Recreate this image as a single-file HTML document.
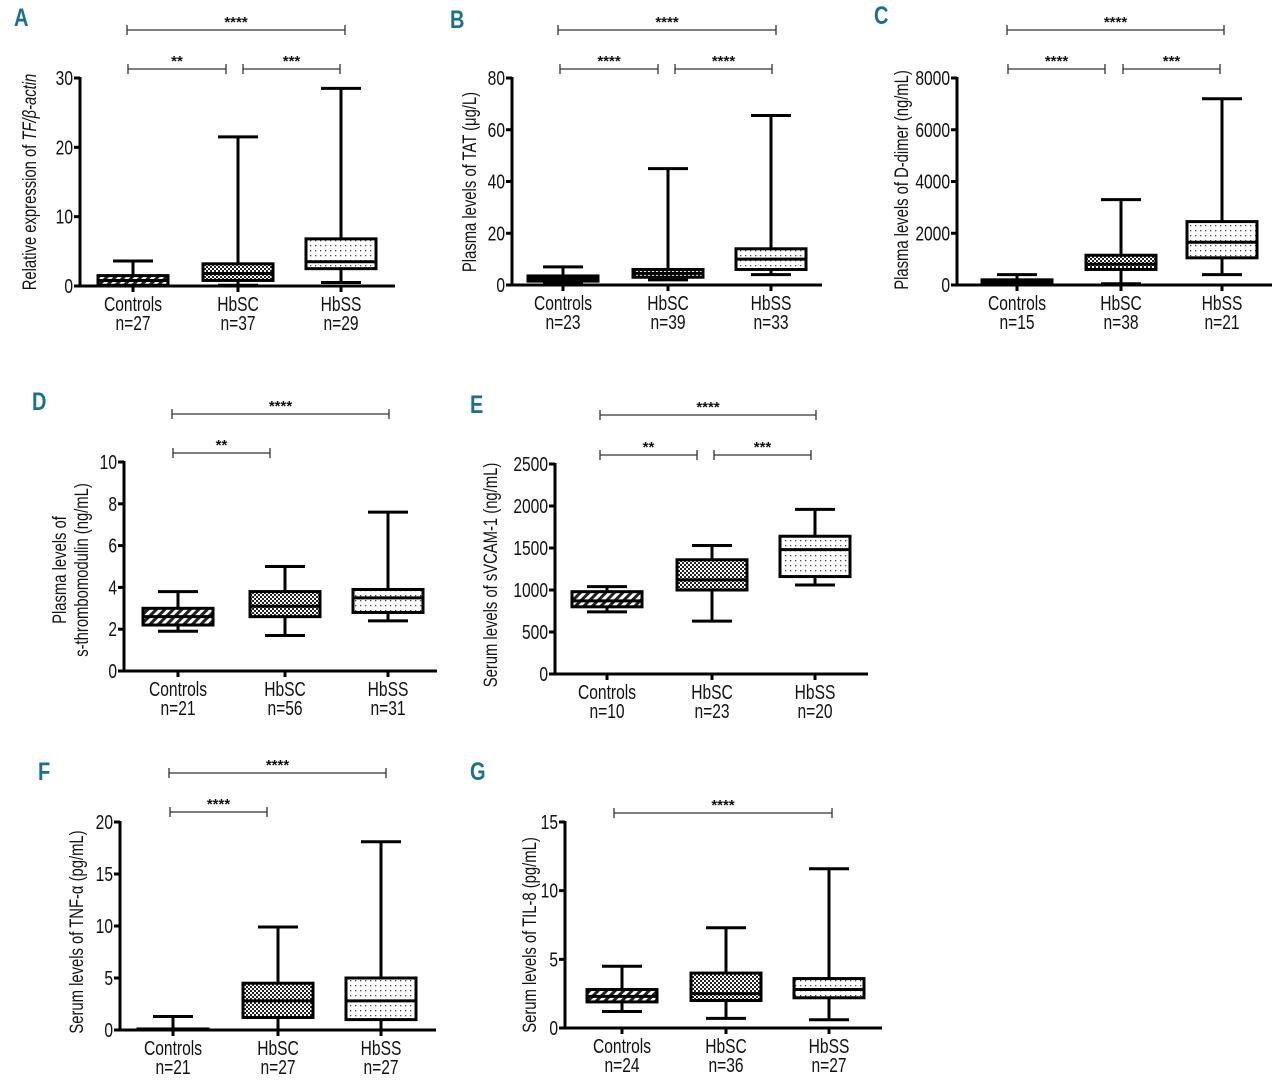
<!DOCTYPE html>
<html><head><meta charset="utf-8"><style>
body{margin:0;background:#fff}
svg{display:block}
text{font-family:"Liberation Sans",sans-serif;fill:#111}
</style></head><body>
<svg id="fig" width="1280" height="1082" viewBox="0 0 1280 1082" xmlns="http://www.w3.org/2000/svg">
<defs>
<pattern id="pHatch" width="6" height="6" patternUnits="userSpaceOnUse" patternTransform="rotate(45)">
<rect width="6" height="6" fill="#fff"/><rect width="3" height="6" fill="#222"/></pattern>
<pattern id="pCross" width="4" height="4" patternUnits="userSpaceOnUse">
<rect width="4" height="4" fill="#fff"/><rect width="2" height="2" fill="#222"/><rect x="2" y="2" width="2" height="2" fill="#222"/></pattern>
<pattern id="pDots" width="5" height="5" patternUnits="userSpaceOnUse">
<rect width="5" height="5" fill="#fff"/><rect width="1.3" height="1.3" fill="#444"/></pattern>
</defs>
</svg>
<script>
// ---- data ----
const catsA=["Controls","HbSC","HbSS"], nA=["n=27","n=37","n=29"];
const minA=[0,0.1,0.5], q1A=[0.1,0.8,2.5], medA=[0.8,1.8,3.5], q3A=[1.5,3.2,6.8], maxA=[3.6,21.5,28.5];
const ticksA=[0,10,20,30];
const catsB=["Controls","HbSC","HbSS"], nB=["n=23","n=39","n=33"];
const minB=[0.5,2,4], q1B=[1.5,3,6], medB=[2.5,4.5,10], q3B=[3.5,6,14], maxB=[7,45,65.5];
const ticksB=[0,20,40,60,80];
const catsC=["Controls","HbSC","HbSS"], nC=["n=15","n=38","n=21"];
const minC=[0,50,400], q1C=[50,600,1050], medC=[100,800,1650], q3C=[200,1150,2450], maxC=[400,3300,7200];
const ticksC=[0,2000,4000,6000,8000];
const catsD=["Controls","HbSC","HbSS"], nD=["n=21","n=56","n=31"];
const minD=[1.9,1.7,2.4], q1D=[2.2,2.6,2.8], medD=[2.6,3.1,3.5], q3D=[3.0,3.8,3.9], maxD=[3.8,5.0,7.6];
const ticksD=[0,2,4,6,8,10];
const catsE=["Controls","HbSC","HbSS"], nE=["n=10","n=23","n=20"];
const minE=[740,630,1060], q1E=[800,1000,1160], medE=[870,1120,1480], q3E=[980,1360,1640], maxE=[1040,1530,1960];
const ticksE=[0,500,1000,1500,2000,2500];
const catsF=["Controls","HbSC","HbSS"], nF=["n=21","n=27","n=27"];
const minF=[0,0,0], q1F=[0,1.2,1.0], medF=[0,2.8,2.8], q3F=[0.1,4.5,5.0], maxF=[1.3,9.9,18.1];
const ticksF=[0,5,10,15,20];
const catsG=["Controls","HbSC","HbSS"], nG=["n=24","n=36","n=27"];
const minG=[1.2,0.7,0.6], q1G=[1.9,2.0,2.2], medG=[2.3,2.5,2.8], q3G=[2.8,4.0,3.6], maxG=[4.5,7.3,11.6];
const ticksG=[0,5,10,15];
const sigA=["****","**","***"], sigB=["****","****","****"], sigC=["****","****","***"];
const sigD=["****","**"], sigE=["****","**","***"], sigF=["****","****"], sigG=["****"];

// ---- layout ----
const NS="http://www.w3.org/2000/svg";
const svg=document.getElementById('fig');
const SX=0.78;
function mk(tag,attrs,parent,txt){const e=document.createElementNS(NS,tag);for(const k in attrs)e.setAttribute(k,attrs[k]);if(txt!==undefined)e.textContent=txt;(parent||svg).appendChild(e);return e;}
function ntext(x,y,size,anchor,parent,txt){return mk('text',{transform:`translate(${x},${y}) scale(${SX},1)`,'font-size':size,'text-anchor':anchor},parent,txt);}
const fills=["url(#pHatch)","url(#pCross)","url(#pDots)"];

function panel(p){
  const g=mk('g',{});
  
  
  const lab=mk('text',{transform:`translate(${p.lx},${p.ly}) scale(0.8,1)`,'font-size':25,'font-weight':'bold',style:'fill:#1b6f93'},g,p.id);
  
  
  const ymax=p.ticks[p.ticks.length-1];
  const Y=v=>p.bot-(v/ymax)*(p.bot-p.top);
  const ya=mk('line',{x1:p.ax,y1:p.top-1,x2:p.ax,y2:p.bot+1.5,stroke:'#000','stroke-width':3},g);
  
  
  const xa=mk('line',{x1:p.ax-6,y1:p.bot,x2:p.xend,y2:p.bot,stroke:'#000','stroke-width':3},g);
  
  
  p.ticks.forEach(t=>{
    mk('line',{x1:p.ax-6,y1:Y(t),x2:p.ax,y2:Y(t),stroke:'#000','stroke-width':3},g);
    const tl=ntext(p.ax-7,Y(t)+7,20,'end',g,t);
    
    
  });
  const tt=mk('text',{transform:`translate(${p.tx},${p.ty}) rotate(-90) scale(${SX},1)`,'font-size':19,'text-anchor':'middle'},g);
  
  
  p.title.forEach((ln,i)=>{mk('tspan',{x:0,dy:i?22:0},tt,ln);});
  if(p.italic){mk('tspan',{'font-style':'italic'},tt,p.italic);}
  p.cats.forEach((c,i)=>{
    const cx=p.cx[i], hw=p.bw/2, cw=20;
    const bg=mk('g',{},g);
    
    
    mk('line',{x1:cx,y1:Y(p.max[i]),x2:cx,y2:Y(p.min[i]),stroke:'#000','stroke-width':3},bg);
    mk('line',{x1:cx-cw,y1:Y(p.max[i]),x2:cx+cw,y2:Y(p.max[i]),stroke:'#000','stroke-width':3},bg);
    mk('line',{x1:cx-cw,y1:Y(p.min[i]),x2:cx+cw,y2:Y(p.min[i]),stroke:'#000','stroke-width':3},bg);
    mk('rect',{x:cx-hw,y:Y(p.q3[i]),width:p.bw,height:Math.max(1,Y(p.q1[i])-Y(p.q3[i])),fill:fills[i],stroke:'#000','stroke-width':3},bg);
    mk('line',{x1:cx-hw,y1:Y(p.med[i]),x2:cx+hw,y2:Y(p.med[i]),stroke:'#000','stroke-width':3},bg);
    mk('line',{x1:cx,y1:p.bot,x2:cx,y2:p.bot+6,stroke:'#000','stroke-width':3},g);
    const cl=ntext(cx,p.bot+25,20,'middle',g,c);
    
    
    const nl=ntext(cx,p.bot+44,20,'middle',g,p.n[i]);
    
    
  });
  p.br.forEach((b,i)=>{
    const bg=mk('g',{},g);
    
    
    mk('path',{d:`M${b[0]},${b[2]+5}V${b[2]}H${b[1]}V${b[2]+5}M${b[0]},${b[2]-5}V${b[2]}M${b[1]},${b[2]-5}V${b[2]}`,stroke:'#333','stroke-width':1.3,fill:'none'},bg);
    mk('text',{x:(b[0]+b[1])/2,y:b[2]-3,'font-size':15,'font-weight':'bold','text-anchor':'middle'},bg,p.sig[i]);
  });
}

panel({id:'A',lx:14,ly:26,ax:80,top:78,bot:286,xend:395,cx:[133,238,341],bw:70,ticks:ticksA,cats:catsA,n:nA,
 min:minA,q1:q1A,med:medA,q3:q3A,max:maxA,sig:sigA,br:[[127,345,30],[128,226,69],[243,340,69]],
 tx:36,ty:182,title:["Relative expression of "],italic:"TF/β-actin"});
panel({id:'B',lx:450,ly:28,ax:512,top:78,bot:285,xend:822,cx:[563,668,771],bw:70,ticks:ticksB,cats:catsB,n:nB,
 min:minB,q1:q1B,med:medB,q3:q3B,max:maxB,sig:sigB,br:[[558,776,30],[560,658,69],[675,772,69]],
 tx:476,ty:182,title:["Plasma levels of TAT (μg/L)"]});
panel({id:'C',lx:874,ly:24,ax:957,top:78,bot:285,xend:1272,cx:[1017,1121,1222],bw:70,ticks:ticksC,cats:catsC,n:nC,
 min:minC,q1:q1C,med:medC,q3:q3C,max:maxC,sig:sigC,br:[[1007,1224,30],[1008,1105,69],[1123,1220,69]],
 tx:908,ty:180,title:["Plasma levels of D-dimer (ng/mL)"]});
panel({id:'D',lx:32,ly:410,ax:124,top:462,bot:671,xend:437,cx:[178,285,388],bw:70,ticks:ticksD,cats:catsD,n:nD,
 min:minD,q1:q1D,med:medD,q3:q3D,max:maxD,sig:sigD,br:[[172,389,414],[173,270,453]],
 tx:66,ty:570,title:["Plasma levels of","s-thrombomodulin (ng/mL)"]});
panel({id:'E',lx:470,ly:413,ax:555,top:464,bot:674,xend:868,cx:[607,712,815],bw:70,ticks:ticksE,cats:catsE,n:nE,
 min:minE,q1:q1E,med:medE,q3:q3E,max:maxE,sig:sigE,br:[[600,816,415],[600,697,455],[714,811,455]],
 tx:497,ty:575,title:["Serum levels of sVCAM-1 (ng/mL)"]});
panel({id:'F',lx:38,ly:780,ax:120,top:822,bot:1030,xend:436,cx:[173,278,381],bw:70,ticks:ticksF,cats:catsF,n:nF,
 min:minF,q1:q1F,med:medF,q3:q3F,max:maxF,sig:sigF,br:[[169,386,773],[170,267,812]],
 tx:83,ty:932,title:["Serum levels of TNF-α (pg/mL)"]});
panel({id:'G',lx:470,ly:780,ax:565,top:822,bot:1028,xend:882,cx:[622,726,829],bw:70,ticks:ticksG,cats:catsG,n:nG,
 min:minG,q1:q1G,med:medG,q3:q3G,max:maxG,sig:sigG,br:[[614,832,813]],
 tx:536,ty:935,title:["Serum levels of TIL-8 (pg/mL)"]});
</script>
</body></html>
